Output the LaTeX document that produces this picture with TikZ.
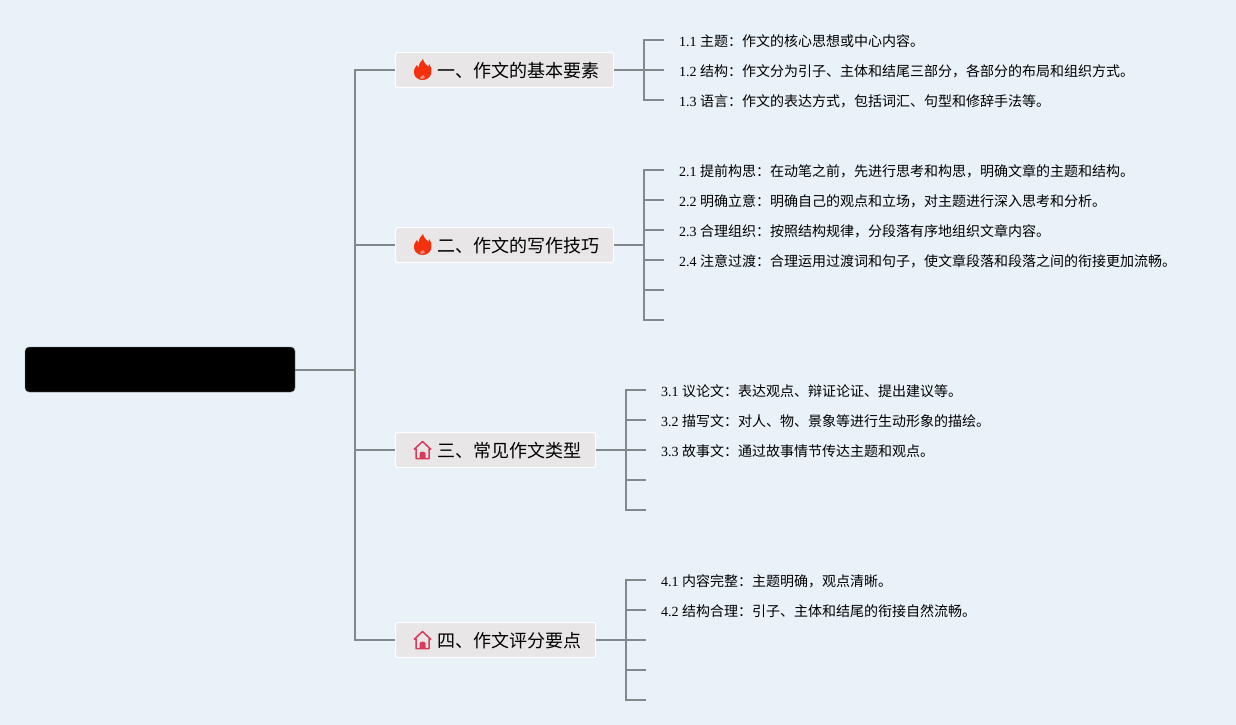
\documentclass[tikz,border=0pt]{standalone}
\usepackage{fontspec}
\setmainfont{Liberation Serif}
\newfontfamily\cjk{Noto Sans CJK SC}
\usetikzlibrary{positioning}
\definecolor{bgblue}{HTML}{E9F1F9}
\definecolor{boxgrey}{HTML}{E8E6E6}
\definecolor{linegrey}{HTML}{808A8A}
\definecolor{flamered}{HTML}{F5300F}
\definecolor{housered}{HTML}{D93A5C}
\newcommand{\leaftext}[2]{#1 {\cjk #2}}
% 全角标点
\newcommand{\zcolon}{\char"FF1A\relax}
\newcommand{\zcomma}{\char"FF0C\relax}
\tikzset{
    rootbox/.style={fill=black, draw=linegrey, line width=0.4pt, rounded corners=4pt, minimum width=270pt, minimum height=45pt, inner sep=0pt},
    branchbox/.style={fill=boxgrey, draw=white, line width=1.2pt, rounded corners=1.5pt, minimum height=35pt, anchor=west, inner xsep=14.5pt, inner ysep=0pt, text height=17.5pt, text depth=2.5pt, font=\fontsize{18pt}{20pt}\selectfont\cjk, text=black},
    leafnode/.style={anchor=west, inner sep=0pt, font=\fontsize{14pt}{16pt}\selectfont, text=black},
    linkline/.style={draw=linegrey, line width=2pt},
    flameicon/.pic={
        \fill[flamered] (0.5,-11) .. controls (1.5,-6) and (5,-5) .. (6,-3)
            .. controls (6.5,-4) and (6.5,-5) .. (6.5,-6)
            .. controls (9,-3) and (9.5,1) .. (8.5,4)
            .. controls (7.5,8) and (3.5,10) .. (0,10)
            .. controls (-4,10) and (-8,7.5) .. (-8.5,3)
            .. controls (-9,-1) and (-7,-3) .. (-5.5,-5)
            .. controls (-5.2,-3.5) and (-5,-3) .. (-4,-2)
            .. controls (-3.5,-6) and (-2,-9) .. (0.5,-11) -- cycle;
        \fill[flamered!55!white] (0.5,5) .. controls (1,6) and (2.5,6.5) .. (2.3,7.5)
            .. controls (2,8.7) and (1,9) .. (0,9)
            .. controls (-1.2,9) and (-2.3,8.5) .. (-2.3,7.5)
            .. controls (-2.3,6.5) and (0,6) .. (0.5,5) -- cycle;
    },
    houseicon/.pic={
        \draw[housered, line width=1.5pt, line join=round] (-8.5,-0.5) -- (0,-8.5) -- (8.5,-0.5)
            (-6.5,-1.5) -- (-6.5,8.5) -- (6.5,8.5) -- (6.5,-1.5);
        \fill[housered] (-3,8.5) -- (-3,3.5) .. controls (-3,1) and (3,1) .. (3,3.5) -- (3,8.5) -- cycle;
    }
}
\begin{document}
\begin{tikzpicture}[x=1pt, y=-1pt]
    % 背景
    \fill[bgblue] (0,0) rectangle (1236,725);
    \useasboundingbox (0,0) rectangle (1236,725);
    % 中心主题
    \node[rootbox] (root) at (160,369.5) {};
    \coordinate (spine) at (355,370);
    % 四个分支
    \node[branchbox] (branchA) at (395,70) {\hspace{27pt}一、作文的基本要素};
    \node[branchbox] (branchB) at (395,245) {\hspace{27pt}二、作文的写作技巧};
    \node[branchbox] (branchC) at (395,450) {\hspace{27pt}三、常见作文类型};
    \node[branchbox] (branchD) at (395,640) {\hspace{27pt}四、作文评分要点};
    \pic at (422.5,70) {flameicon};
    \pic at (422.5,245) {flameicon};
    \pic at (422.5,450) {houseicon};
    \pic at (422.5,640) {houseicon};
    % 主干
    \draw[linkline] (root.east |- spine) -- (spine);
    \foreach \b in {A,B,C,D} {
        \draw[linkline] (spine) |- (branch\b.west);
    }
    % 分支一
    \coordinate (hubA) at (644,70);
    \draw[linkline] (branchA.east) -- (hubA);
    \foreach \y/\t [count=\i] in {
        40/\leaftext{1.1}{主题\zcolon 作文的核心思想或中心内容。},
        70/\leaftext{1.2}{结构\zcolon 作文分为引子、主体和结尾三部分\zcomma 各部分的布局和组织方式。},
        100/\leaftext{1.3}{语言\zcolon 作文的表达方式\zcomma 包括词汇、句型和修辞手法等。}} {
        \coordinate (endA\i) at (664,\y);
        \node[leafnode] (leafA\i) at (679,\y+1.5) {\t};
        \draw[linkline] (hubA) |- (endA\i);
    }
    % 分支二
    \coordinate (hubB) at (644,245);
    \draw[linkline] (branchB.east) -- (hubB);
    \foreach \y/\t [count=\i] in {
        170/\leaftext{2.1}{提前构思\zcolon 在动笔之前\zcomma 先进行思考和构思\zcomma 明确文章的主题和结构。},
        200/\leaftext{2.2}{明确立意\zcolon 明确自己的观点和立场\zcomma 对主题进行深入思考和分析。},
        230/\leaftext{2.3}{合理组织\zcolon 按照结构规律\zcomma 分段落有序地组织文章内容。},
        260/\leaftext{2.4}{注意过渡\zcolon 合理运用过渡词和句子\zcomma 使文章段落和段落之间的衔接更加流畅。},
        290/{},
        320/{}} {
        \coordinate (endB\i) at (664,\y);
        \node[leafnode] (leafB\i) at (679,\y+1.5) {\t};
        \draw[linkline] (hubB) |- (endB\i);
    }
    % 分支三
    \coordinate (hubC) at (626,450);
    \draw[linkline] (branchC.east) -- (hubC);
    \foreach \y/\t [count=\i] in {
        390/\leaftext{3.1}{议论文\zcolon 表达观点、辩证论证、提出建议等。},
        420/\leaftext{3.2}{描写文\zcolon 对人、物、景象等进行生动形象的描绘。},
        450/\leaftext{3.3}{故事文\zcolon 通过故事情节传达主题和观点。},
        480/{},
        510/{}} {
        \coordinate (endC\i) at (646,\y);
        \node[leafnode] (leafC\i) at (661,\y+1.5) {\t};
        \draw[linkline] (hubC) |- (endC\i);
    }
    % 分支四
    \coordinate (hubD) at (626,640);
    \draw[linkline] (branchD.east) -- (hubD);
    \foreach \y/\t [count=\i] in {
        580/\leaftext{4.1}{内容完整\zcolon 主题明确\zcomma 观点清晰。},
        610/\leaftext{4.2}{结构合理\zcolon 引子、主体和结尾的衔接自然流畅。},
        640/{},
        670/{},
        700/{}} {
        \coordinate (endD\i) at (646,\y);
        \node[leafnode] (leafD\i) at (661,\y+1.5) {\t};
        \draw[linkline] (hubD) |- (endD\i);
    }
\end{tikzpicture}
\end{document}
